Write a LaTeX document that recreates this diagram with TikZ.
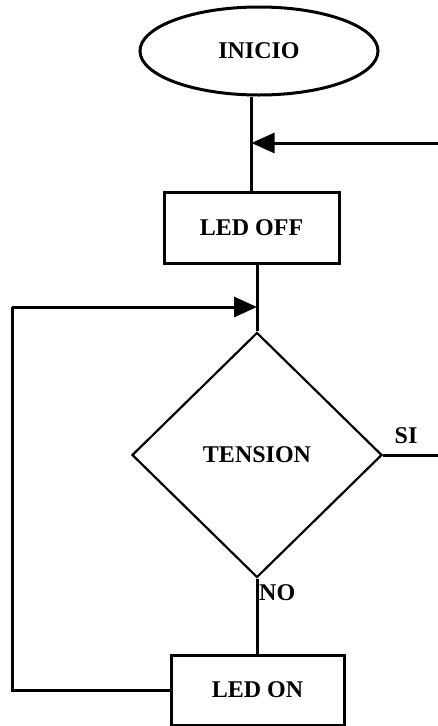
\documentclass[tikz,border=0pt]{standalone}
\usepackage{fontspec}
\setmainfont{Liberation Serif}
\usetikzlibrary{shapes.geometric,arrows.meta}
\begin{document}
\begin{tikzpicture}[x=1pt,y=-1pt,
  lbl/.style={font=\fontsize{24}{24}\selectfont\bfseries, inner sep=0pt},
  conn/.style={line width=3pt},
  arr/.style={conn,-{Triangle[length=23pt,width=20pt]}},
  box/.style={draw,line width=3pt,rectangle,inner sep=0pt,lbl},
]
\useasboundingbox (0,0) rectangle (438,726);
\fill[white] (0,0) rectangle (438,726);
\node[draw,line width=3pt,ellipse,minimum width=238pt,minimum height=88pt,inner sep=0pt,lbl] (inicio) at (259,51) {INICIO};
\node[box,minimum width=175pt,minimum height=71pt] (ledoff) at (251.5,227.5) {LED OFF};
\node[draw,line width=2.2pt,diamond,minimum width=250pt,minimum height=245pt,inner sep=0pt,lbl] (dec) at (257,455) {TENSION};
\node[box,minimum width=173pt,minimum height=70pt] (ledon) at (257.5,690) {LED ON};
\node[lbl,anchor=center] (si) at (406,436) {SI};
\node[lbl,anchor=west] (no) at (259,593) {NO};
\coordinate (rin) at (440,143);
\coordinate (sout) at (440,452);
\coordinate (lc) at (12,307);
\draw[conn] (inicio.south -| ledoff.north) -- (ledoff.north);
\draw[arr] (rin) -- (rin -| ledoff.north);
\draw[conn] (ledoff.south -| dec.north) -- (dec.north);
\draw[conn] (dec.east) -- (dec.east -| sout);
\draw[conn] (dec.south) -- (dec.south |- ledon.north);
\draw[conn] (ledon.west) -| (lc);
\draw[arr] (lc) -- (lc -| dec.north);
\end{tikzpicture}
\end{document}
